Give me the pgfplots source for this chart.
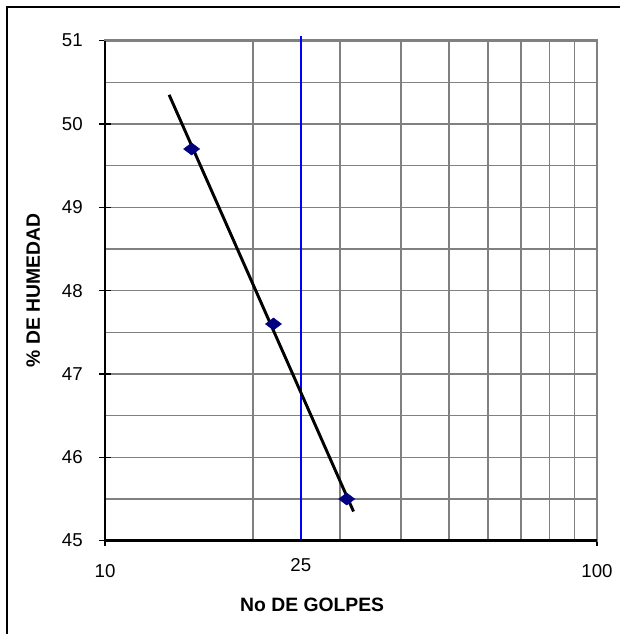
\documentclass[border=0pt]{standalone}
\usepackage{pgfplots}
\pgfplotsset{compat=1.18}
\usepackage{fontspec}
\setmainfont{Liberation Sans}
\definecolor{navy}{RGB}{0,0,128}
\definecolor{gridgray}{RGB}{128,128,128}
\begin{document}
\begin{tikzpicture}
\useasboundingbox (0,0) rectangle (464.25pt,475.5pt);
\draw[line width=1.1pt] (5.25pt,-5pt) -- (5.25pt,470.25pt) -- (470pt,470.25pt);
\begin{axis}[
  at={(78.75pt,70pt)}, anchor=south west,
  scale only axis, width=369pt, height=375pt,
  xmode=log, xmin=10, xmax=100, ymin=45, ymax=51,
  xtick={10,100}, xticklabels={10,100},
  extra x ticks={25}, extra x tick labels={25},
  extra x tick style={major tick length=0pt, grid=none},
  minor xtick={20,30,40,50,60,70,80,90},
  ytick={45,46,47,48,49,50,51},
  yticklabels={45,46,47,48,49,50,51},
  minor ytick={45.5,46.5,47.5,48.5,49.5,50.5},
  xtick pos=bottom, ytick pos=left,
  grid=both,
  major grid style={gridgray, line width=1.2pt},
  minor grid style={gridgray, line width=1.2pt},
  tick align=center, major tick length=8.5pt, minor tick length=0pt,
  tick style={black, line width=1.1pt},
  axis line style={gridgray, line width=1.8pt},
  ticklabel style={font=\fontsize{14}{16}\selectfont},
  yticklabel style={xshift=-9pt},
  xticklabel style={yshift=-10pt},
  xlabel={No DE GOLPES}, ylabel={\% DE HUMEDAD},
  label style={font=\bfseries\fontsize{14.5}{17}\selectfont},
  xlabel style={at={(axis description cs:0.421,-0.1286)}, anchor=center},
  ylabel style={at={(axis description cs:-0.146,0.5)}, anchor=center},
  clip=false,
]
\addplot[blue, line width=1.6pt] coordinates {(25,45) (25,51.05)};
\addplot[only marks, mark=diamond*, mark size=6pt, mark options={rotate=90, fill=navy, draw=navy}] coordinates {(15,49.7) (22,47.6) (31,45.5)};
\addplot[black, line width=2.2pt] coordinates {(13.5,50.35) (32,45.35)};
\draw[black, line width=1.8pt] (rel axis cs:0,1) -- (rel axis cs:0,0) -- (rel axis cs:1,0);
\end{axis}
\end{tikzpicture}
\end{document}
